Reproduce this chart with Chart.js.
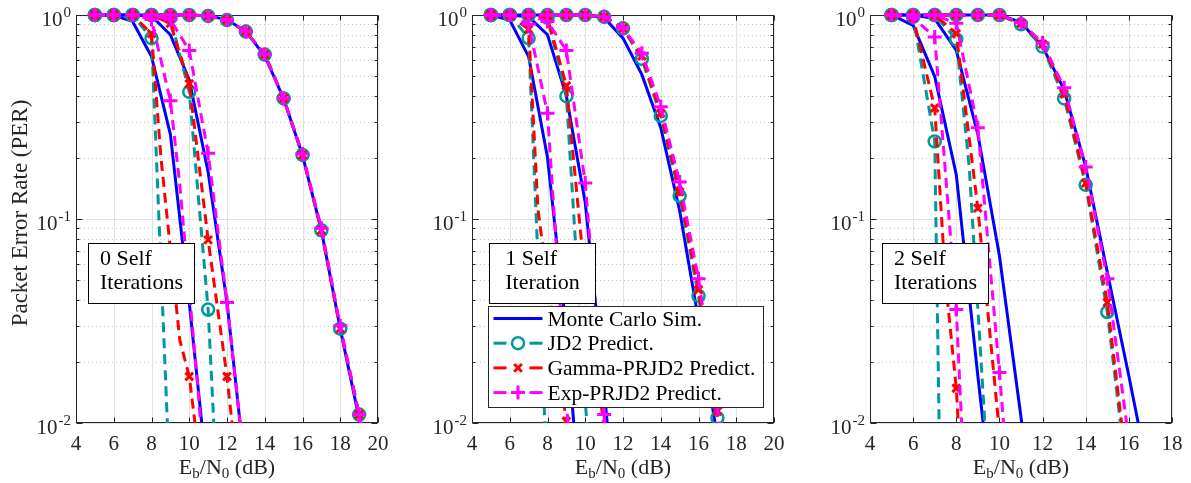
<!DOCTYPE html>
<html>
<head>
<meta charset="utf-8">
<script src="https://cdn.jsdelivr.net/npm/chart.js@4.4.1/dist/chart.umd.min.js"></script>
<style>
  html, body { margin: 0; padding: 0; background: #fff; }
  #wrap { position: relative; width: 1191px; height: 483px; overflow: hidden; }
  #wrap canvas { position: absolute; left: 0; top: 0; }
</style>
</head>
<body>
<div id="wrap">
  <canvas id="c0" width="1191" height="483"></canvas>
  <canvas id="c1" width="1191" height="483"></canvas>
  <canvas id="c2" width="1191" height="483"></canvas>
</div>
<script>
'use strict';

// ---- data: [Eb/N0 (dB), PER] ----
// 0 self iterations
var it0_a_mc  = [[5,1],[6,0.995],[7,0.93],[8,0.625],[9,0.26],[10,0.039],[11,0.005]];
var it0_a_jd2 = [[5,1],[6,1],[7,1],[8,0.77],[9,0.0044]];
var it0_a_gam = [[5,1],[6,1],[7,1],[8,0.81],[8.5,0.2],[9.5,0.0255],[10,0.0169],[11,0.003]];
var it0_a_exp = [[5,1],[6,1],[7,1],[8,0.95],[9,0.38],[9.5,0.147],[10.5,0.0134],[11,0.003]];
var it0_b_mc  = [[5,1],[6,1],[7,1],[8,0.99],[9,0.8],[10,0.48],[11,0.17],[12,0.039],[13,0.0055]];
var it0_b_jd2 = [[5,1],[6,1],[7,1],[8,1],[9,0.97],[10,0.42],[11,0.036],[12,0.0005]];
var it0_b_gam = [[5,1],[6,1],[7,1],[8,1],[9,0.91],[10,0.46],[11,0.079],[12,0.0169],[13,0.0023]];
var it0_b_exp = [[5,1],[6,1],[7,1],[8,1],[9,0.95],[10,0.67],[11,0.21],[12,0.039],[13,0.0055]];
var it0_c_mc  = [[5,1],[6,1],[7,1],[8,1],[9,1],[10,1],[11,0.99],[12,0.95],[13,0.83],[14,0.63],[15,0.39],[16,0.205],[17,0.088],[18,0.029],[19,0.0105],[20,0.004]];
var it0_c_jd2 = [[5,1],[6,1],[7,1],[8,1],[9,1],[10,1],[11,0.99],[12,0.945],[13,0.83],[14,0.64],[15,0.39],[16,0.206],[17,0.088],[18,0.029],[19,0.011],[20,0.004]];
var it0_c_gam = [[5,1],[6,1],[7,1],[8,1],[9,1],[10,1],[11,0.99],[12,0.945],[13,0.83],[14,0.64],[15,0.39],[16,0.206],[17,0.088],[18,0.029],[19,0.011],[20,0.004]];
var it0_c_exp = [[5,1],[6,1],[7,1],[8,1],[9,1],[10,1],[11,0.99],[12,0.945],[13,0.83],[14,0.64],[15,0.39],[16,0.208],[17,0.09],[18,0.03],[19,0.011],[20,0.004]];

// 1 self iteration
var it1_a_mc  = [[5,1],[6,0.945],[7,0.625],[8,0.2],[9,0.028],[10,0.002]];
var it1_a_jd2 = [[5,1],[6,1],[7,0.77],[8,0.005]];
var it1_a_gam = [[5,1],[6,1],[7,0.85],[7.5,0.11],[8.5,0.022],[9,0.0102],[10,0.001]];
var it1_a_exp = [[5,1],[6,1],[7,0.9],[8,0.33],[9,0.013],[10,0.0005]];
var it1_b_mc  = [[5,1],[6,1],[7,0.98],[8,0.8],[9,0.4],[10,0.12],[11,0.015],[12,0.0012]];
var it1_b_jd2 = [[5,1],[6,1],[7,1],[8,0.97],[9,0.4],[10,0.013],[11,0.0005]];
var it1_b_gam = [[5,1],[6,1],[7,1],[8,0.97],[9,0.45],[10,0.05],[11,0.0095],[12,0.001]];
var it1_b_exp = [[5,1],[6,1],[7,1],[8,0.93],[9,0.67],[10,0.15],[11,0.011],[12,0.001]];
var it1_c_mc  = [[5,1],[6,1],[7,1],[8,1],[9,1],[10,1],[11,0.97],[12,0.77],[13,0.51],[14,0.28],[15,0.11],[16,0.032],[17,0.0085],[18,0.001]];
var it1_c_jd2 = [[5,1],[6,1],[7,1],[8,1],[9,1],[10,1],[11,0.98],[12,0.86],[13,0.61],[14,0.32],[15,0.13],[16,0.042],[17,0.0106],[18,0.002]];
var it1_c_gam = [[5,1],[6,1],[7,1],[8,1],[9,1],[10,1],[11,0.98],[12,0.86],[13,0.63],[14,0.33],[15,0.136],[16,0.045],[17,0.0114],[18,0.002]];
var it1_c_exp = [[5,1],[6,1],[7,1],[8,1],[9,1],[10,1],[11,0.98],[12,0.86],[13,0.65],[14,0.355],[15,0.152],[16,0.051],[17,0.012],[18,0.002]];

// 2 self iterations
var it2_a_mc  = [[5,1],[6,0.89],[7,0.5],[8,0.165],[9,0.017],[10,0.002]];
var it2_a_jd2 = [[5,1],[6,0.98],[7,0.24],[7.5,0.0001]];
var it2_a_gam = [[5,1],[6,0.97],[7,0.35],[7.5,0.05],[8,0.0148],[9,0.0002]];
var it2_a_exp = [[5,1],[6,0.97],[7,0.78],[8,0.036],[9,0.0002]];
var it2_b_mc  = [[5,1],[6,1],[7,0.96],[8,0.67],[9,0.26],[10,0.066],[11,0.0107],[12,0.0016]];
var it2_b_jd2 = [[5,1],[6,1],[7,1],[8,0.76],[8.6,0.18],[9.3,0.011],[9.6,0.001]];
var it2_b_gam = [[5,1],[6,1],[7,1],[8,0.81],[9,0.113],[10,0.009],[11,0.0005]];
var it2_b_exp = [[5,1],[6,1],[7,1],[8,0.91],[9,0.28],[10,0.0177],[11,0.0009]];
var it2_c_mc  = [[5,1],[6,1],[7,1],[8,1],[9,1],[10,1],[11,0.92],[12,0.7],[13,0.43],[14,0.18],[15,0.055],[16,0.017],[17,0.005]];
var it2_c_jd2 = [[5,1],[6,1],[7,1],[8,1],[9,1],[10,1],[11,0.9],[12,0.7],[13,0.39],[14,0.147],[15,0.035],[16,0.0045]];
var it2_c_gam = [[5,1],[6,1],[7,1],[8,1],[9,1],[10,1],[11,0.91],[12,0.72],[13,0.41],[14,0.15],[15,0.039],[16,0.005]];
var it2_c_exp = [[5,1],[6,1],[7,1],[8,1],[9,1],[10,1],[11,0.92],[12,0.73],[13,0.44],[14,0.18],[15,0.051],[16,0.0083]];

// ---- axes, ticks, labels ----
var xTicksWide   = [4, 6, 8, 10, 12, 14, 16, 18, 20];
var xTicksNarrow = [4, 6, 8, 10, 12, 14, 16, 18];
var yTicks       = [0.01, 0.1, 1];
var yTickExp     = ['-2', '-1', '0'];
var legendLabels = ['Monte Carlo Sim.', 'JD2 Predict.', 'Gamma-PRJD2 Predict.', 'Exp-PRJD2 Predict.'];
var boxTexts     = [['0 Self', 'Iterations'], ['1 Self', 'Iteration'], ['2 Self', 'Iterations']];

var FONT = '"Liberation Serif", "Times New Roman", serif';
var TEAL = 'rgb(0,153,153)';

var STYLES = {
	mc:  { color: '#0000ff', dash: [],      marker: null },
	jd2: { color: TEAL,      dash: [10, 6], marker: 'circle' },
	gam: { color: '#ff0000', dash: [10, 6], marker: 'crossRot' },
	exp: { color: '#ff00ff', dash: [10, 6], marker: 'cross' }
};
var MARKER_SIZE = { circle: 6, crossRot: 5.5, cross: 7 };
var ORDER = { mc: 4, jd2: 3, gam: 2, exp: 1 };

function makeSet( points, kind ) {
	var st = STYLES[ kind ];
	var r = st.marker ? MARKER_SIZE[ st.marker ] : 0;
	return {
		data: points.map( function( p ) { return { x: p[0], y: p[1] }; } ),
		borderColor: st.color,
		borderWidth: 3,
		borderDash: st.dash,
		backgroundColor: 'rgba(0,0,0,0)',
		pointStyle: st.marker || 'circle',
		// markers only on the whole-dB points
		pointRadius: function( c ) { return ( r && c.raw && Number.isInteger( c.raw.x ) ) ? r : 0; },
		pointBorderColor: st.color,
		pointBackgroundColor: 'rgba(0,0,0,0)',
		pointBorderWidth: kind === 'jd2' ? 2.5 : 3,
		fill: false,
		tension: 0,
		order: ORDER[ kind ],
		clip: { left: 0, top: 10, right: 0, bottom: 0 }
	};
}

// marker drawing for the legend
function drawMarker( ctx, shape, x, y, color ) {
	var r = MARKER_SIZE[ shape ];
	ctx.save();
	ctx.setLineDash( [] );
	ctx.strokeStyle = color;
	ctx.lineWidth = shape === 'circle' ? 2.5 : 3;
	ctx.beginPath();
	if ( shape === 'circle' ) {
		ctx.arc( x, y, r, 0, Math.PI * 2 );
	} else if ( shape === 'crossRot' ) {
		var d = r * 0.7071;
		ctx.moveTo( x - d, y - d ); ctx.lineTo( x + d, y + d );
		ctx.moveTo( x + d, y - d ); ctx.lineTo( x - d, y + d );
	} else {
		ctx.moveTo( x - r, y ); ctx.lineTo( x + r, y );
		ctx.moveTo( x, y - r ); ctx.lineTo( x, y + r );
	}
	ctx.stroke();
	ctx.restore();
}

function hline( ctx, x0, x1, y ) { ctx.beginPath(); ctx.moveTo( x0, y ); ctx.lineTo( x1, y ); ctx.stroke(); }
function vline( ctx, x, y0, y1 ) { ctx.beginPath(); ctx.moveTo( x, y0 ); ctx.lineTo( x, y1 ); ctx.stroke(); }

var matlabAxes = {
	id: 'matlabAxes',
	beforeDatasetsDraw: function( chart, args, o ) {
		var ctx = chart.ctx, a = chart.chartArea;
		var xs = chart.scales.x, ys = chart.scales.y;
		var minor = [];
		yTicks.slice( 0, -1 ).forEach( function( d ) {
			for ( var m = 2; m <= 9; m++ ) { minor.push( m * d ); }
		} );
		ctx.save();
		ctx.lineWidth = 1;

		// minor grid, dotted
		ctx.strokeStyle = '#c4c4c4';
		ctx.setLineDash( [ 1, 3 ] );
		minor.forEach( function( v ) {
			hline( ctx, a.left, a.right, Math.round( ys.getPixelForValue( v ) ) + 0.5 );
		} );

		// major grid
		ctx.setLineDash( [] );
		ctx.strokeStyle = '#e2e2e2';
		o.xTicks.forEach( function( v ) {
			vline( ctx, Math.round( xs.getPixelForValue( v ) ) + 0.5, a.top, a.bottom );
		} );
		yTicks.forEach( function( v ) {
			hline( ctx, a.left, a.right, Math.round( ys.getPixelForValue( v ) ) + 0.5 );
		} );

		// box and tick marks
		ctx.strokeStyle = '#262626';
		var L = Math.round( a.left ) + 0.5, R = Math.round( a.right ) - 0.5;
		var T = Math.round( a.top ) + 0.5, B = Math.round( a.bottom ) - 0.5;
		ctx.strokeRect( L, T, R - L, B - T );
		o.xTicks.forEach( function( v ) {
			var px = Math.round( xs.getPixelForValue( v ) ) + 0.5;
			vline( ctx, px, B, B - 5 );
			vline( ctx, px, T, T + 5 );
		} );
		yTicks.forEach( function( v ) {
			var py = Math.round( ys.getPixelForValue( v ) ) + 0.5;
			hline( ctx, L, L + 6, py );
			hline( ctx, R, R - 6, py );
		} );
		minor.forEach( function( v ) {
			var py = Math.round( ys.getPixelForValue( v ) ) + 0.5;
			hline( ctx, L, L + 3, py );
			hline( ctx, R, R - 3, py );
		} );
		ctx.restore();
	},
	afterDatasetsDraw: function( chart, args, o ) {
		var ctx = chart.ctx, a = chart.chartArea;
		var xs = chart.scales.x, ys = chart.scales.y;
		ctx.save();
		ctx.fillStyle = '#262626';

		// x tick labels
		ctx.font = '21px ' + FONT;
		ctx.textAlign = 'center';
		ctx.textBaseline = 'alphabetic';
		o.xTicks.forEach( function( v ) {
			ctx.fillText( String( v ), xs.getPixelForValue( v ), a.bottom + 27 );
		} );

		// y tick labels 10^k
		yTicks.forEach( function( v, i ) {
			var py = ys.getPixelForValue( v );
			ctx.font = '15px ' + FONT;
			var ew = ctx.measureText( yTickExp[ i ] ).width;
			var right = a.left - 5;
			ctx.textAlign = 'left';
			ctx.fillText( yTickExp[ i ], right - ew, py + 2 );
			ctx.font = '21px ' + FONT;
			ctx.textAlign = 'right';
			ctx.fillText( '10', right - ew - 1, py + 11 );
		} );

		// x axis title: E_b/N_0 (dB)
		var parts = [
			[ 'E', 22, 0 ], [ 'b', 15, 4 ], [ '/N', 22, 0 ], [ '0', 15, 4 ], [ ' (dB)', 22, 0 ]
		];
		var total = 0;
		parts.forEach( function( p ) { ctx.font = p[1] + 'px ' + FONT; total += ctx.measureText( p[0] ).width; } );
		var cx = ( a.left + a.right ) / 2 - total / 2;
		ctx.textAlign = 'left';
		parts.forEach( function( p ) {
			ctx.font = p[1] + 'px ' + FONT;
			ctx.fillText( p[0], cx, a.bottom + 51 + p[2] );
			cx += ctx.measureText( p[0] ).width;
		} );

		// y axis title
		if ( o.yTitle ) {
			ctx.save();
			ctx.translate( a.left - 55, ( a.top + a.bottom ) / 2 - 6 );
			ctx.rotate( -Math.PI / 2 );
			ctx.font = '23px ' + FONT;
			ctx.textAlign = 'center';
			ctx.textBaseline = 'middle';
			ctx.fillText( o.yTitle, 0, 0 );
			ctx.restore();
		}

		// "n Self Iterations" text box
		var tb = o.textBox;
		var bx = Math.round( a.left + tb.dx ) + 0.5, by = Math.round( a.top + tb.dy ) + 0.5;
		ctx.fillStyle = '#ffffff';
		ctx.fillRect( bx, by, tb.w, tb.h );
		ctx.strokeStyle = '#000000';
		ctx.lineWidth = 1;
		ctx.strokeRect( bx, by, tb.w, tb.h );
		ctx.fillStyle = '#000000';
		ctx.font = '22px ' + FONT;
		ctx.textAlign = 'left';
		var maxW = 0;
		tb.lines.forEach( function( s ) { maxW = Math.max( maxW, ctx.measureText( s ).width ); } );
		var tx = bx + ( tb.w - maxW ) / 2;
		tb.lines.forEach( function( s, i ) {
			ctx.fillText( s, tx, by + 21 + i * 24 );
		} );

		// legend
		if ( o.legend ) {
			var lg = o.legend;
			var lx = Math.round( a.left + lg.dx ) + 0.5, ly = Math.round( a.top + lg.dy ) + 0.5;
			ctx.fillStyle = '#ffffff';
			ctx.fillRect( lx, ly, lg.w, lg.h );
			ctx.strokeStyle = '#262626';
			ctx.strokeRect( lx, ly, lg.w, lg.h );
			[ 'mc', 'jd2', 'gam', 'exp' ].forEach( function( k, i ) {
				var st = STYLES[ k ];
				var yy = ly + 12 + i * 24.7;
				var x0 = lx + 5, x1 = lx + 54, xm = ( x0 + x1 ) / 2;
				ctx.strokeStyle = st.color;
				ctx.lineWidth = 3;
				if ( st.marker ) {
					hline( ctx, x0, x0 + 13, yy );
					hline( ctx, x1 - 13, x1, yy );
					drawMarker( ctx, st.marker, xm, yy, st.color );
				} else {
					hline( ctx, x0, x1, yy );
				}
				ctx.fillStyle = '#000000';
				ctx.font = '21.5px ' + FONT;
				ctx.textAlign = 'left';
				ctx.fillText( legendLabels[ i ], lx + 59, yy + 7 );
			} );
		}
		ctx.restore();
	}
};

var PANELS = [
	{ id: 'c0', left: 76,  right: 378,  xmax: 20, xTicks: xTicksWide,   yTitle: 'Packet Error Rate (PER)',
	  sets: { mc: [ it0_a_mc, it0_b_mc, it0_c_mc ], jd2: [ it0_a_jd2, it0_b_jd2, it0_c_jd2 ],
	          gam: [ it0_a_gam, it0_b_gam, it0_c_gam ], exp: [ it0_a_exp, it0_b_exp, it0_c_exp ] },
	  textBox: { dx: 12, dy: 228, w: 106, h: 60, lines: boxTexts[0] } },
	{ id: 'c1', left: 472, right: 774,  xmax: 20, xTicks: xTicksWide,   yTitle: null,
	  sets: { mc: [ it1_a_mc, it1_b_mc, it1_c_mc ], jd2: [ it1_a_jd2, it1_b_jd2, it1_c_jd2 ],
	          gam: [ it1_a_gam, it1_b_gam, it1_c_gam ], exp: [ it1_a_exp, it1_b_exp, it1_c_exp ] },
	  textBox: { dx: 17, dy: 228, w: 106, h: 60, lines: boxTexts[1] },
	  legend: { dx: 16, dy: 291, w: 275, h: 101 } },
	{ id: 'c2', left: 870, right: 1172, xmax: 18, xTicks: xTicksNarrow, yTitle: null,
	  sets: { mc: [ it2_a_mc, it2_b_mc, it2_c_mc ], jd2: [ it2_a_jd2, it2_b_jd2, it2_c_jd2 ],
	          gam: [ it2_a_gam, it2_b_gam, it2_c_gam ], exp: [ it2_a_exp, it2_b_exp, it2_c_exp ] },
	  textBox: { dx: 12, dy: 228, w: 106, h: 60, lines: boxTexts[2] } }
];

PANELS.forEach( function( p ) {
	var datasets = [];
	[ 'mc', 'jd2', 'gam', 'exp' ].forEach( function( k ) {
		p.sets[ k ].forEach( function( pts ) { datasets.push( makeSet( pts, k ) ); } );
	} );

	new Chart( document.getElementById( p.id ), {
		type: 'line',
		data: { datasets: datasets },
		options: {
			responsive: false,
			animation: false,
			events: [],
			layout: { padding: { left: p.left, right: 1191 - p.right, top: 15, bottom: 60 } },
			scales: {
				x: { type: 'linear', min: 4, max: p.xmax, display: false },
				y: { type: 'logarithmic', min: 0.01, max: 1, display: false }
			},
			plugins: {
				legend: { display: false },
				tooltip: { enabled: false },
				matlabAxes: { xTicks: p.xTicks, yTitle: p.yTitle, textBox: p.textBox, legend: p.legend }
			}
		},
		plugins: [ matlabAxes ]
	} );
} );
</script>
</body>
</html>
